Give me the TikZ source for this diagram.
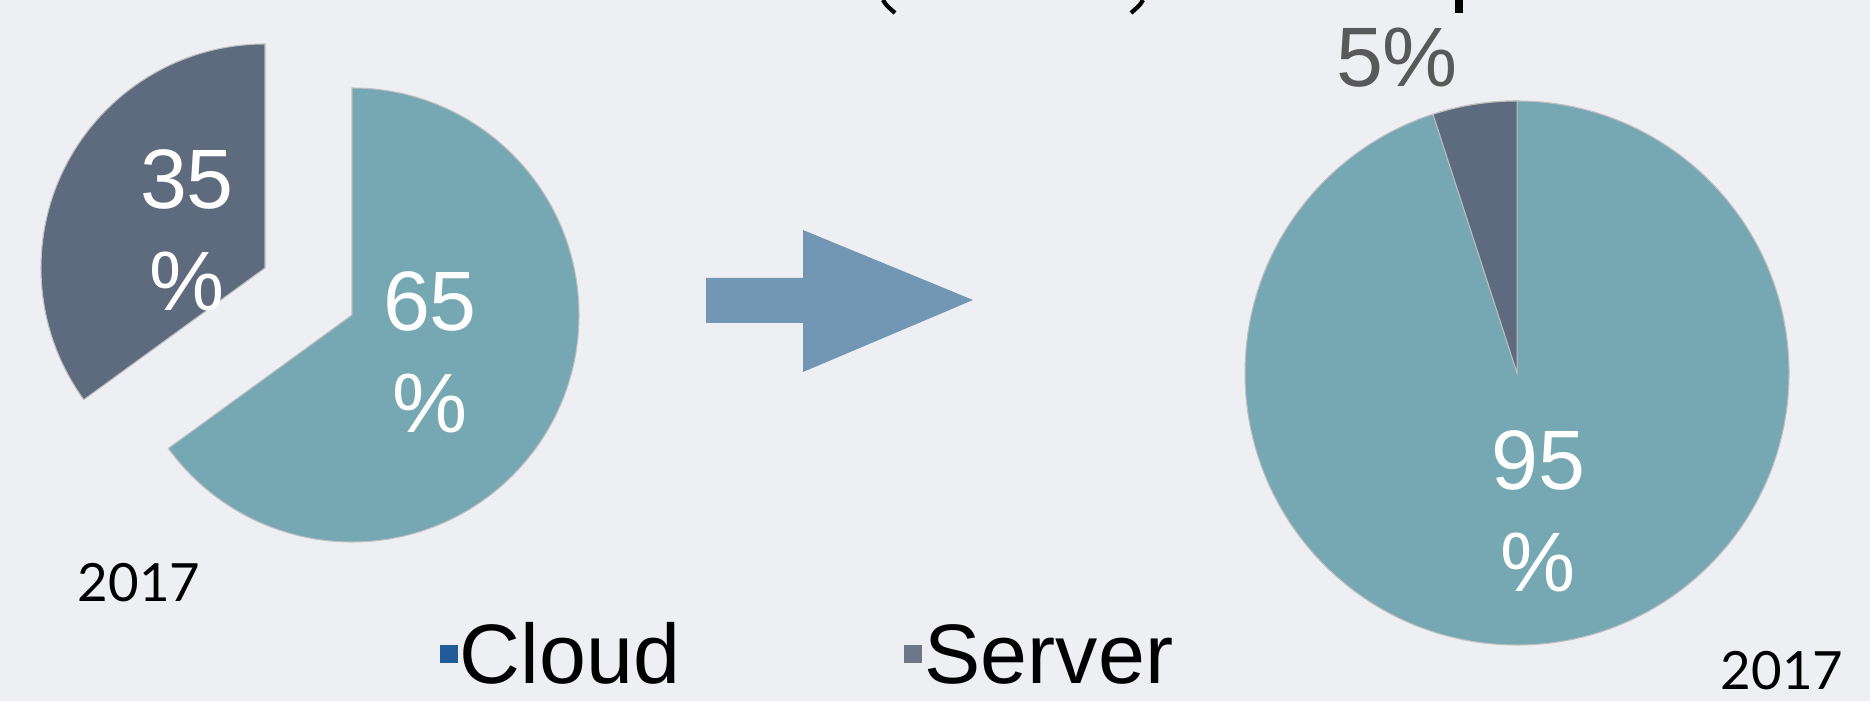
\documentclass[tikz,border=0pt]{standalone}
\usepackage{fontspec}
\setmainfont{Liberation Sans}
\newfontfamily\yearfont{Lato}

\definecolor{paper}{RGB}{237,239,242}
\definecolor{cloudteal}{RGB}{117,168,178}
\definecolor{serverslate}{RGB}{94,106,125}
\definecolor{arrowblue}{RGB}{114,151,181}
\definecolor{legcloud}{RGB}{31,92,153}
\definecolor{legserver}{RGB}{108,119,135}
\definecolor{outgray}{RGB}{89,89,89}

\begin{document}
\begin{tikzpicture}[x=0.1mm, y=0.1mm,
        slice/.style={draw=black!25, line width=0.3pt},
        cloudslice/.style={slice, fill=cloudteal},
        serverslice/.style={slice, fill=serverslate},
        pct/.style={text=white, align=center, inner sep=0pt, font=\fontsize{24}{29}\selectfont},
        outpct/.style={text=outgray, inner sep=0pt, font=\fontsize{24}{29}\selectfont},
        year/.style={inner sep=0pt, font=\yearfont\fontsize{15}{18}\selectfont},
        legsq/.style={minimum size=18*0.1mm, inner sep=0pt},
        legtxt/.style={inner sep=0pt, font=\fontsize{24}{29}\selectfont},
        cutglyph/.style={line width=1.2pt, line cap=butt}
    ]
        \fill[paper] (0,0) rectangle (1870,701);
        \useasboundingbox (0,0) rectangle (1870,701);

        % bottoms of the cut-off heading
        \draw[cutglyph] (883,701) .. controls (886,696) .. (895,688);
        \draw[cutglyph] (1143,701) .. controls (1140,696) .. (1131,688);
        \fill (1455,688) rectangle (1463,701);

        % left pie, both slices pulled apart
        \coordinate (cserver) at (265,433);
        \coordinate (ccloud) at (352,386);
        \fill[serverslice] (cserver) -- ++(0,224)
            arc[start angle=90, end angle=216, radius=224] -- cycle;
        \fill[cloudslice] (ccloud) -- ++(0,227)
            arc[start angle=90, end angle=-144, radius=227] -- cycle;
        \node[pct] (l35) at (187,471) {35\\\%};
        \node[pct] (l65) at (430,349) {65\\\%};
        \node[year] (yleft) at (139,99) [anchor=base] {2017};

        % arrow between the charts
        \fill[arrowblue] (706,378) -- (803,378) -- (803,329) -- (973,401)
            -- (803,471) -- (803,423) -- (706,423) -- cycle;

        % right pie
        \coordinate (cright) at (1517,328);
        \fill[cloudslice] (cright) circle[radius=272];
        \fill[serverslice] (cright) -- ++(0,272)
            arc[start angle=90, end angle=108, radius=272] -- cycle;
        \node[pct] (l95) at (1538,190) {95\\\%};
        \node[outpct, anchor=base] (l5) at (1397,614) {5\%};
        \node[year] (yright) at (1782,12) [anchor=base] {2017};

        % legend
        \node[legsq, fill=legcloud] (sqcloud) at (449,47) {};
        \node[legtxt, anchor=base west] (tcloud) at (459,18) {Cloud};
        \node[legsq, fill=legserver] (sqserver) at (913,47) {};
        \node[legtxt, anchor=base west] (tserver) at (924,18) {Server};
    \end{tikzpicture}
\end{document}
